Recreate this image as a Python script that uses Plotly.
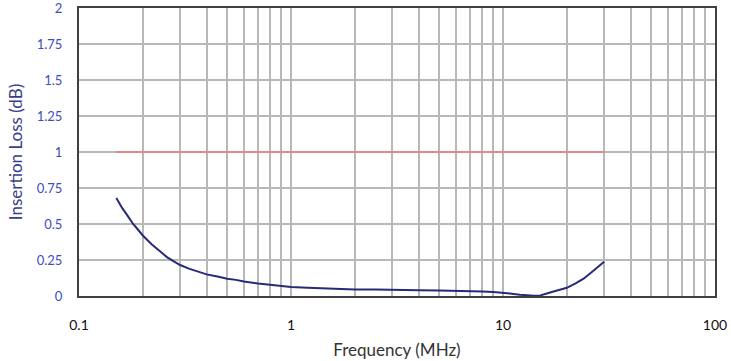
import plotly.graph_objects as go

freq_mhz = [0.15, 0.16, 0.17, 0.18, 0.19, 0.2, 0.22, 0.24, 0.26, 0.28, 0.3, 0.33, 0.36, 0.4,
            0.45, 0.5, 0.55, 0.6, 0.7, 0.8, 0.9, 1, 1.2, 1.4, 1.6, 1.8, 2, 2.5, 3, 3.5, 4, 5,
            6, 7, 8, 9, 10, 11, 12, 13, 14, 15, 16, 17, 18, 19, 20, 22, 24, 26, 28, 30]
insertion_loss_db = [0.68, 0.61, 0.555, 0.50, 0.46, 0.42, 0.36, 0.31, 0.27, 0.24, 0.215, 0.19,
                     0.172, 0.15, 0.135, 0.12, 0.112, 0.10, 0.087, 0.077, 0.07, 0.063, 0.058,
                     0.054, 0.05, 0.049, 0.046, 0.045, 0.042, 0.043, 0.04, 0.039, 0.038, 0.035,
                     0.032, 0.028, 0.024, 0.016, 0.009, 0.004, 0.002, 0.004, 0.014, 0.028,
                     0.038, 0.047, 0.057, 0.087, 0.12, 0.162, 0.2, 0.238]
limit_freq = [0.15, 30]
limit_db = [1, 1]

x_tickvals = [m * 10 ** e for e in (-1, 0, 1) for m in range(1, 10)] + [100]
x_ticktext = [("0.1" if (m == 1 and e == -1) else "1" if (m == 1 and e == 0) else "10" if m == 1 else "")
              for e in (-1, 0, 1) for m in range(1, 10)] + ["100"]
y_tickvals = [0, 0.25, 0.5, 0.75, 1, 1.25, 1.5, 1.75, 2]
y_ticktext = ["0", "0.25", "0.5", "0.75", "1", "1.25", "1.5", "1.75", "2"]

fig = go.Figure()
fig.add_trace(go.Scatter(x=limit_freq, y=limit_db, mode="lines",
                         line=dict(color="#f07878", width=1.5), hoverinfo="skip"))
fig.add_trace(go.Scatter(x=freq_mhz, y=insertion_loss_db, mode="lines",
                         line=dict(color="#262a78", width=2)))

font_family = "Lato, 'Open Sans', sans-serif"
fig.update_layout(
    width=731, height=361,
    margin=dict(l=79, r=16, t=8, b=65),
    paper_bgcolor="white", plot_bgcolor="white",
    showlegend=False,
    font=dict(family=font_family),
    xaxis=dict(
        type="log", range=[-1, 2], automargin=False,
        tickmode="array", tickvals=x_tickvals, ticktext=x_ticktext,
        showgrid=True, gridcolor="#b8b8b8", gridwidth=1.5,
        showline=True, linecolor="#404040", linewidth=2, mirror=True,
        ticks="", ticklabelstandoff=15, ticklabeloverflow="allow",
        tickfont=dict(size=14, color="#111111"),
        title=dict(text="Frequency (MHz)", font=dict(size=17, color="#333333"), standoff=12),
        zeroline=False,
    ),
    yaxis=dict(
        range=[0, 2], automargin=False,
        tickmode="array", tickvals=y_tickvals, ticktext=y_ticktext,
        showgrid=True, gridcolor="#b8b8b8", gridwidth=1.5,
        showline=True, linecolor="#404040", linewidth=2, mirror=True,
        ticks="", ticklabelstandoff=12, ticklabeloverflow="allow",
        tickfont=dict(size=13, color="#3c4ec0"),
        title=dict(text="Insertion Loss (dB)", font=dict(size=17, color="#3a3f8c"), standoff=10),
        zeroline=False,
    ),
)
fig.write_html("out.html", config={"displayModeBar": False},
               post_script="document.body.style.margin='0';")
